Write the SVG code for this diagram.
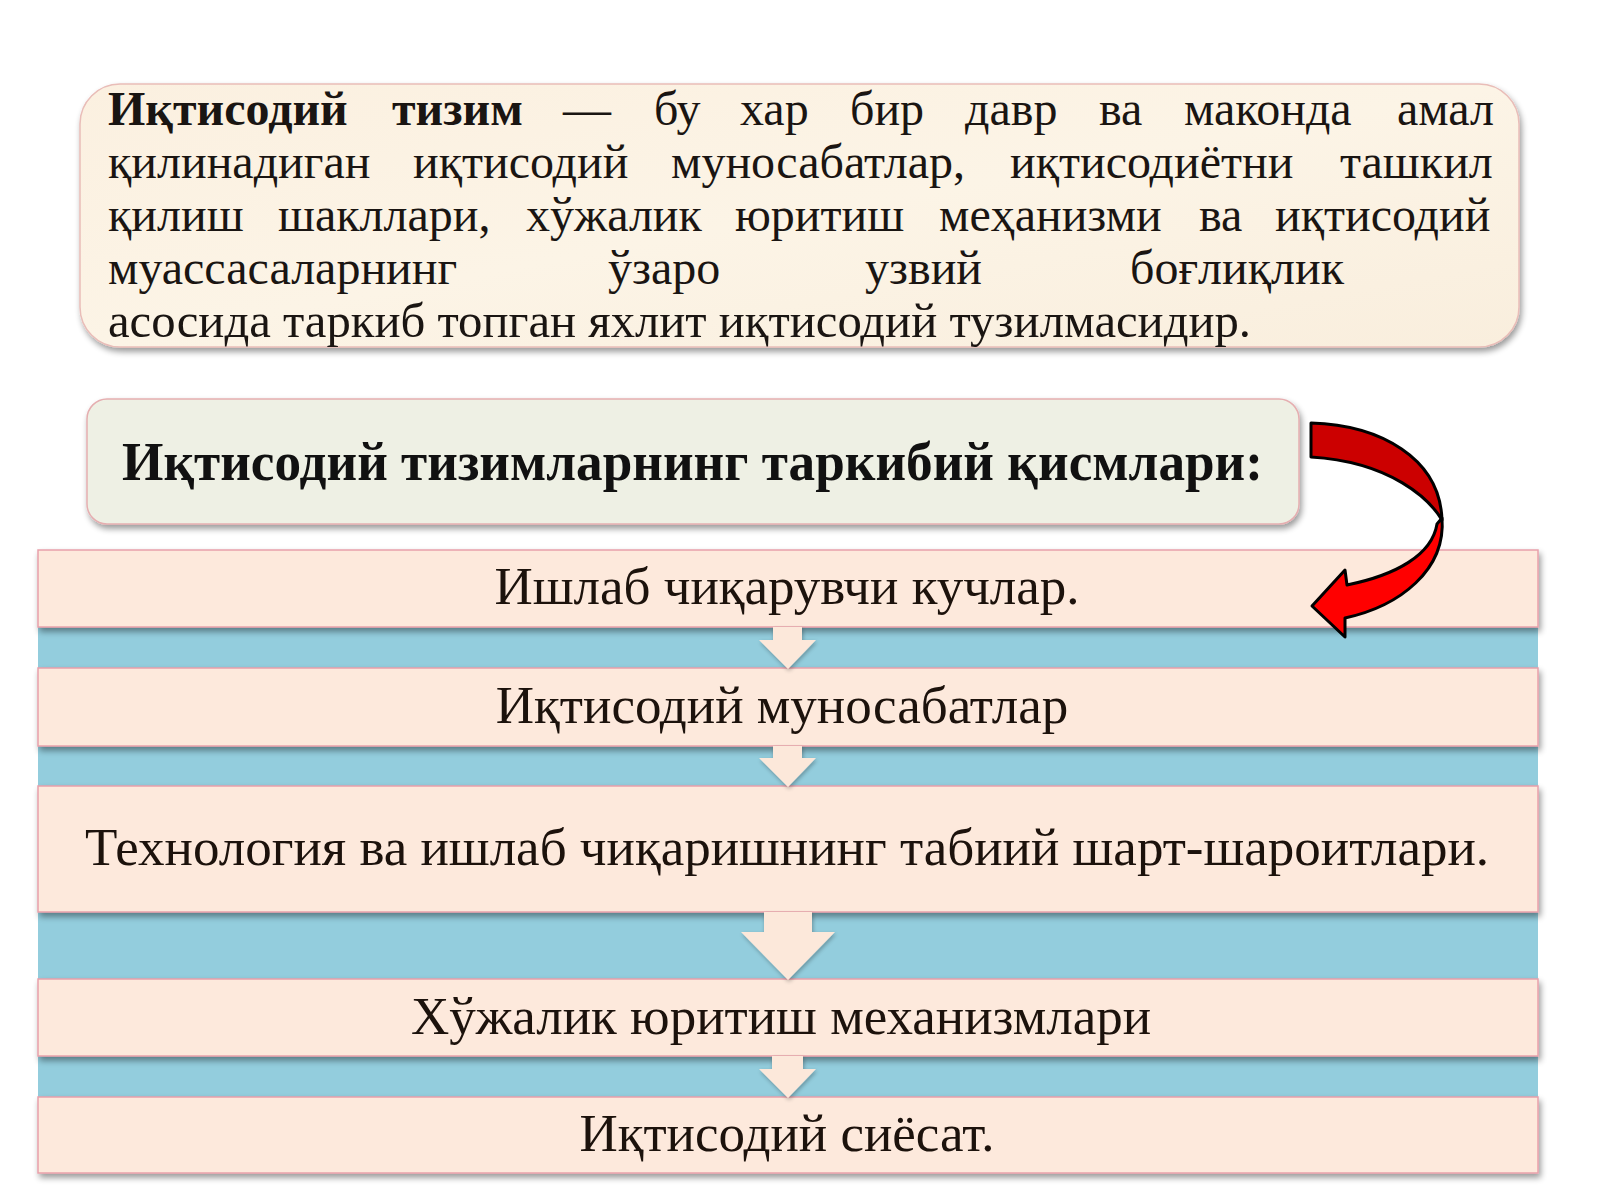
<svg xmlns="http://www.w3.org/2000/svg" width="1600" height="1200" viewBox="0 0 1600 1200">
  <defs>
    <filter id="sh" x="-5%" y="-20%" width="112%" height="150%">
      <feGaussianBlur in="SourceAlpha" stdDeviation="3"/>
      <feOffset dx="2" dy="4"/>
      <feComponentTransfer><feFuncA type="linear" slope="0.4"/></feComponentTransfer>
      <feMerge><feMergeNode/><feMergeNode in="SourceGraphic"/></feMerge>
    </filter>
    <filter id="shs" x="-20%" y="-20%" width="140%" height="140%">
      <feGaussianBlur in="SourceAlpha" stdDeviation="2"/>
      <feOffset dx="1" dy="2"/>
      <feComponentTransfer><feFuncA type="linear" slope="0.3"/></feComponentTransfer>
      <feMerge><feMergeNode/><feMergeNode in="SourceGraphic"/></feMerge>
    </filter>
    <linearGradient id="parch" x1="0" y1="0" x2="1" y2="1">
      <stop offset="0" stop-color="#FBF0E0"/>
      <stop offset="0.5" stop-color="#FCF4E6"/>
      <stop offset="1" stop-color="#F9EEDD"/>
    </linearGradient>
  </defs>
  <style>
    .body { font-family: "Liberation Serif", "Times New Roman", serif; font-size: 48px; fill: #1a1512; }
    .bold { font-weight: bold; }
    .hdr { font-family: "Liberation Serif", "Times New Roman", serif; font-size: 54px; font-weight: bold; fill: #111; }
    .item { font-family: "Liberation Serif", "Times New Roman", serif; font-size: 53px; fill: #1c120c; text-anchor: middle; }
    .pink { fill: #FDE9DC; stroke: #E8A0AA; stroke-width: 1.5; }
    .down { fill: #FCE8DA; }
    .red-top { fill: #CC0000; stroke: #000; stroke-width: 3; stroke-linejoin: round; }
    .red-bot { fill: #FF0000; stroke: #000; stroke-width: 3; stroke-linejoin: round; }
  </style>

  <rect width="1600" height="1200" fill="#FFFFFF"/>

  <g id="definition">
    <rect x="80" y="84" width="1439" height="263" rx="40" ry="40" fill="url(#parch)" stroke="#E9BDB8" stroke-width="1.5" filter="url(#sh)"/>
    <text class="body" y="125">
      <tspan class="bold" x="108">Иқтисодий</tspan>
      <tspan class="bold" x="392">тизим</tspan>
      <tspan x="563">—</tspan>
      <tspan x="654">бу</tspan>
      <tspan x="740">хар</tspan>
      <tspan x="850">бир</tspan>
      <tspan x="965">давр</tspan>
      <tspan x="1099">ва</tspan>
      <tspan x="1184">маконда</tspan>
      <tspan x="1397">амал</tspan>
    </text>
    <text class="body" y="178">
      <tspan x="108">қилинадиган</tspan>
      <tspan x="413">иқтисодий</tspan>
      <tspan x="671">муносабатлар,</tspan>
      <tspan x="1010">иқтисодиётни</tspan>
      <tspan x="1340">ташкил</tspan>
    </text>
    <text class="body" y="231">
      <tspan x="108">қилиш</tspan>
      <tspan x="278">шакллари,</tspan>
      <tspan x="526">хўжалик</tspan>
      <tspan x="735">юритиш</tspan>
      <tspan x="939">меҳанизми</tspan>
      <tspan x="1199">ва</tspan>
      <tspan x="1275">иқтисодий</tspan>
    </text>
    <text class="body" y="284">
      <tspan x="108">муассасаларнинг</tspan>
      <tspan x="608">ўзаро</tspan>
      <tspan x="865">узвий</tspan>
      <tspan x="1130">боғлиқлик</tspan>
    </text>
    <text class="body" x="108" y="337" textLength="1143" lengthAdjust="spacingAndGlyphs">асосида таркиб топган яхлит иқтисодий тузилмасидир.</text>
  </g>

  <g id="header">
    <rect x="87" y="399" width="1212" height="125" rx="20" ry="20" fill="#EEF0E4" stroke="#E5AEB0" stroke-width="1.5" filter="url(#sh)"/>
    <text class="hdr" x="122" y="480" textLength="1141" lengthAdjust="spacingAndGlyphs">Иқтисодий тизимларнинг таркибий қисмлари:</text>
  </g>

  <rect id="band" x="38" y="627" width="1500" height="470" fill="#93CDDD"/>

  <g id="item1">
    <rect class="pink" x="38" y="550" width="1500" height="77" filter="url(#sh)"/>
    <text class="item" x="787" y="604">Ишлаб чиқарувчи кучлар.</text>
  </g>
  <g id="item2">
    <rect class="pink" x="38" y="668" width="1500" height="78" filter="url(#sh)"/>
    <text class="item" x="782" y="723">Иқтисодий муносабатлар</text>
  </g>
  <g id="item3">
    <rect class="pink" x="38" y="786" width="1500" height="126" filter="url(#sh)"/>
    <text class="item" x="787" y="865">Технология ва ишлаб чиқаришнинг табиий шарт-шароитлари.</text>
  </g>
  <g id="item4">
    <rect class="pink" x="38" y="979" width="1500" height="77" filter="url(#sh)"/>
    <text class="item" x="781" y="1034">Хўжалик юритиш механизмлари</text>
  </g>
  <g id="item5">
    <rect class="pink" x="38" y="1097" width="1500" height="76" filter="url(#sh)"/>
    <text class="item" x="787" y="1151">Иқтисодий сиёсат.</text>
  </g>

  <g id="connectors">
    <path class="down" filter="url(#shs)" d="M773,627 L802,627 L802,640 L816,640 L788,669 L759,640 L773,640 Z"/>
    <path class="down" filter="url(#shs)" d="M773,746 L802,746 L802,758 L816,758 L788,787 L759,758 L773,758 Z"/>
    <path class="down" filter="url(#shs)" d="M764,912 L812,912 L812,932 L835,932 L788,980 L741,932 L764,932 Z"/>
    <path class="down" filter="url(#shs)" d="M772,1056 L803,1056 L803,1069 L816,1069 L788,1098 L759,1069 L772,1069 Z"/>
    <g id="curved-arrow">
      <path class="red-bot" d="M1442,518 C1446,570 1400,606 1345,618 L1345,637 L1312,606 L1345,570 L1347,585 C1396,575 1432,555 1437,524 Z"/>
      <path class="red-top" d="M1311,423 C1380,425 1440,458 1442,520 C1430,500 1392,462 1311,457 Z"/>
    </g>
  </g>
</svg>
